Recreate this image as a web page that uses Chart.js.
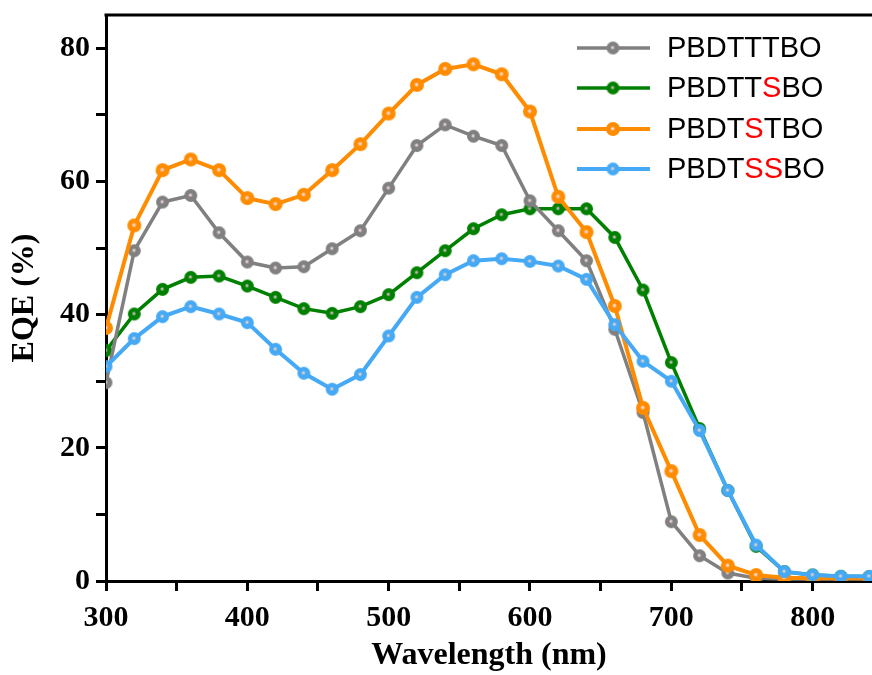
<!DOCTYPE html>
<html>
<head>
<meta charset="utf-8">
<script src="https://cdn.jsdelivr.net/npm/chart.js@4.4.1/dist/chart.umd.min.js"></script>
<style>
  html, body { margin:0; padding:0; background:#fff; }
  #wrap { width:872px; height:675px; position:relative; overflow:hidden; }
</style>
</head>
<body>
<div id="wrap"><canvas id="c" width="872" height="675"></canvas></div>
<script>
// ── Data ───────────────────────────────────────────────────────
const wavelengths = [300,320,340,360,380,400,420,440,460,480,500,520,540,560,580,600,620,640,660,680,700,720,740,760,780,800,820,840];

const eqeTTT = [29.8,49.6,56.9,57.9,52.3,47.9,47.0,47.2,49.9,52.6,59.0,65.4,68.5,66.8,65.4,57.1,52.6,48.1,37.8,25.3,8.9,3.8,1.2,0.4,0.3,0.3,0.3,0.3];
const eqeTTS = [34.6,40.1,43.8,45.6,45.8,44.3,42.6,40.9,40.2,41.2,43.0,46.3,49.6,52.9,55.0,55.9,55.9,55.9,51.6,43.7,32.8,22.9,13.6,5.2,1.4,0.9,0.7,0.65];
const eqeTST = [38.0,53.4,61.7,63.3,61.7,57.5,56.6,58.0,61.7,65.6,70.2,74.5,76.9,77.6,76.1,70.5,57.7,52.4,41.3,26.0,16.5,6.9,2.3,0.9,0.5,0.4,0.4,0.4];
const eqeTSS = [32.2,36.4,39.7,41.2,40.1,38.8,34.8,31.2,28.8,31.0,36.8,42.6,46.0,48.1,48.4,48.0,47.3,45.3,38.5,33.0,30.0,22.6,13.6,5.4,1.4,0.9,0.7,0.7];

const seriesNames = ['PBDTTTBO','PBDTTSBO','PBDTSTBO','PBDTSSBO'];
const redChars    = [[], [5], [4], [4,5]];   // letters drawn in red in the legend
const seriesVals  = [eqeTTT, eqeTTS, eqeTST, eqeTSS];

// ── Style ──────────────────────────────────────────────────────
const COL    = ['#808080','#008000','#ff8c00','#45a9f5'];
const HI     = ['#e8d0d0','#c8b8b8','#ffdcdc','#e0d0c8'];
const LW     = [3.5, 3.5, 4, 4];
const RAD    = [6.5, 6.5, 7, 6.5];
const ORDER  = [2, 3, 1, 0];
const SERIF  = '"Liberation Serif", "Times New Roman", serif';
const SANS   = '"Liberation Sans", Arial, sans-serif';

function marker(col, hi, r) {
  const s = Math.ceil(r * 2 + 2), c = s / 2;
  const cv = document.createElement('canvas'); cv.width = cv.height = s;
  const g = cv.getContext('2d');
  const grad = g.createRadialGradient(c - 0.5, c - 0.5, 0, c, c, r);
  grad.addColorStop(0, hi); grad.addColorStop(0.1, hi);
  grad.addColorStop(0.36, col); grad.addColorStop(1, col);
  g.fillStyle = grad; g.beginPath(); g.arc(c, c, r, 0, Math.PI * 2); g.fill();
  return cv;
}
const markers = COL.map((c, i) => marker(c, HI[i], RAD[i]));

const datasets = seriesNames.map((name, i) => ({
  label: name,
  data: wavelengths.map((x, k) => ({ x, y: seriesVals[i][k] })),
  borderColor: COL[i], backgroundColor: COL[i], borderWidth: LW[i],
  pointStyle: markers[i], pointRadius: RAD[i], order: ORDER[i], tension: 0,
}));

// ── Plugins ────────────────────────────────────────────────────
const frame = {
  id: 'frame',
  afterDraw(chart) {
    const { ctx, chartArea: a } = chart;
    ctx.save(); ctx.strokeStyle = '#000'; ctx.lineWidth = 3;
    ctx.beginPath(); ctx.moveTo(a.left - 1.5, a.top); ctx.lineTo(a.right, a.top); ctx.stroke();
    ctx.restore();
  }
};

const legendRows = [48, 88, 129, 169];
const legend = {
  id: 'customLegend',
  afterDraw(chart) {
    const ctx = chart.ctx;
    ctx.save();
    ctx.font = '29px ' + SANS; ctx.textBaseline = 'middle';
    seriesNames.forEach((name, i) => {
      const y = legendRows[i];
      ctx.strokeStyle = COL[i]; ctx.lineWidth = LW[i];
      ctx.beginPath(); ctx.moveTo(577, y); ctx.lineTo(650, y); ctx.stroke();
      const m = markers[i]; ctx.drawImage(m, 613 - m.width / 2, y - m.height / 2);
      let x = 667;
      [...name].forEach((ch, k) => {
        ctx.fillStyle = redChars[i].includes(k) ? '#ff0000' : '#000';
        ctx.fillText(ch, x, y + 1);
        x += ctx.measureText(ch).width;
      });
    });
    ctx.restore();
  }
};

// ── Chart ──────────────────────────────────────────────────────
const tickFont = { family: SERIF, size: 30, weight: 'bold', lineHeight: 0.8 };
const axisGrid = { drawOnChartArea: false, drawTicks: true, tickLength: 10, color: '#000', lineWidth: 3 };

new Chart(document.getElementById('c'), {
  type: 'line',
  data: { datasets },
  options: {
    responsive: false, animation: false, devicePixelRatio: 1,
    layout: { autoPadding: false, padding: { top: 15, right: 0, left: 0, bottom: 0 } },
    plugins: { legend: { display: false }, tooltip: { enabled: false } },
    scales: {
      x: {
        type: 'linear', min: 300, max: 842,
        ticks: { stepSize: 50, includeBounds: false, autoSkip: false, maxRotation: 0, padding: 15,
                 color: '#000', font: tickFont, callback: v => v % 100 === 0 ? v : '' },
        grid: axisGrid, border: { color: '#000', width: 3 },
        title: { display: true, text: 'Wavelength (nm)', color: '#000',
                 font: { family: SERIF, size: 32, weight: 'bold' }, padding: { top: 0, bottom: 0 } },
        afterFit: s => { s.height = 94; s.paddingLeft = 0; s.paddingRight = 0; },
      },
      y: {
        min: 0, max: 85,
        ticks: { stepSize: 10, includeBounds: false, autoSkip: false, padding: 6,
                 color: '#000', font: tickFont, callback: v => v % 20 === 0 ? v : '' },
        grid: axisGrid, border: { color: '#000', width: 3 },
        title: { display: true, text: 'EQE (%)', color: '#000',
                 font: { family: SERIF, size: 32, weight: 'bold' }, padding: { top: 6, bottom: 6 } },
        afterFit: s => { s.width = 106; s.paddingTop = 0; s.paddingBottom = 0; },
      },
    },
  },
  plugins: [frame, legend],
});
</script>
</body>
</html>
